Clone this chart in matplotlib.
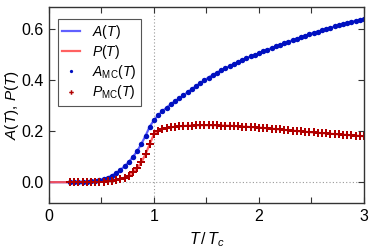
import matplotlib
matplotlib.use("Agg")
import matplotlib.pyplot as plt

plt.rcParams['font.family'] = ['Liberation Sans', 'DejaVu Sans']
plt.rcParams['mathtext.fontset'] = 'custom'
plt.rcParams['mathtext.rm'] = 'Liberation Sans'
plt.rcParams['mathtext.it'] = 'Liberation Sans:italic'
plt.rcParams['mathtext.sf'] = 'Liberation Sans'

T_mc = [0.20, 0.24, 0.28, 0.32, 0.36, 0.40, 0.44, 0.48, 0.52, 0.56,
        0.60, 0.64, 0.68, 0.72, 0.76, 0.80, 0.84, 0.88, 0.92, 0.96,
        1.00, 1.04, 1.08, 1.12, 1.16, 1.20, 1.24, 1.28, 1.32, 1.36,
        1.40, 1.44, 1.48, 1.52, 1.56, 1.60, 1.64, 1.68, 1.72, 1.76,
        1.80, 1.84, 1.88, 1.92, 1.96, 2.00, 2.04, 2.08, 2.12, 2.16,
        2.20, 2.24, 2.28, 2.32, 2.36, 2.40, 2.44, 2.48, 2.52, 2.56,
        2.60, 2.64, 2.68, 2.72, 2.76, 2.80, 2.84, 2.88, 2.92, 2.96, 3.00]

A_mc = [0.000, 0.000, 0.001, 0.001, 0.002, 0.003, 0.005, 0.008, 0.012, 0.018,
        0.026, 0.036, 0.048, 0.062, 0.079, 0.099, 0.122, 0.150, 0.182, 0.218,
        0.243, 0.262, 0.278, 0.292, 0.305, 0.317, 0.328, 0.340, 0.352, 0.364,
        0.376, 0.388, 0.399, 0.410, 0.420, 0.429, 0.438, 0.446, 0.455, 0.463,
        0.471, 0.479, 0.486, 0.493, 0.499, 0.505, 0.512, 0.519, 0.525, 0.532,
        0.538, 0.544, 0.550, 0.556, 0.562, 0.568, 0.574, 0.580, 0.585, 0.590,
        0.595, 0.600, 0.605, 0.610, 0.614, 0.619, 0.623, 0.628, 0.632, 0.636, 0.640]

P_mc = [0.000, 0.000, 0.000, 0.000, 0.000, 0.000, 0.001, 0.001, 0.002, 0.003,
        0.005, 0.008, 0.012, 0.018, 0.026, 0.038, 0.055, 0.078, 0.110, 0.150,
        0.188, 0.202, 0.208, 0.212, 0.215, 0.217, 0.219, 0.220, 0.221, 0.222,
        0.2225, 0.223, 0.223, 0.223, 0.223, 0.2225, 0.222, 0.2215, 0.221, 0.220,
        0.219, 0.218, 0.217, 0.216, 0.215, 0.214, 0.2125, 0.211, 0.2095, 0.208,
        0.2065, 0.205, 0.2035, 0.202, 0.2005, 0.199, 0.1975, 0.196, 0.1948, 0.1935,
        0.1922, 0.191, 0.1898, 0.1886, 0.1874, 0.1862, 0.185, 0.1838, 0.1826, 0.1814, 0.180]

T_line = [0.0] + T_mc
A_line = [0.0] + A_mc
P_line = [0.0] + P_mc

fig = plt.figure(figsize=(3.74, 2.52), dpi=100)
ax = fig.add_axes([0.131, 0.194, 0.842, 0.778])

ax.axvline(1.0, color='#999999', ls=(0, (1, 2)), lw=0.8, zorder=0)
ax.axhline(0.0, color='#999999', ls=(0, (1, 2)), lw=0.8, zorder=0)

ax.plot(T_line, A_line, color='#4f4fff', lw=1.6, alpha=0.9, label=r'$A(T)$')
ax.plot(T_line, P_line, color='#ff5050', lw=1.6, alpha=0.9, label=r'$P(T)$')
ax.plot(T_mc, A_mc, 'o', color='#0010c0', ms=3.9, mew=0, label=r'$A_{\mathrm{MC}}(T)$')
ax.plot(T_mc, P_mc, 'P', color='#b00000', ms=5.4, mew=0, label=r'$P_{\mathrm{MC}}(T)$')

ax.set_xlim(0, 3)
ax.set_ylim(-0.082, 0.686)
ax.set_xticks([0, 1, 2, 3])
ax.set_xticklabels(['0', '1', '2', '3'])
ax.set_xticks([0.5, 1.5, 2.5], minor=True)
ax.set_yticks([0.0, 0.2, 0.4, 0.6])
ax.set_yticklabels(['0.0', '0.2', '0.4', '0.6'])
ax.tick_params(which='both', direction='in', top=True, right=True,
               labelsize=11.5, color='#333333', pad=4)
ax.tick_params(which='major', length=4, width=0.8)
ax.tick_params(which='minor', length=4, width=0.8)
for s in ax.spines.values():
    s.set_color('#333333')
    s.set_linewidth(1.0)

ax.set_xlabel(r'$T\,/\,T_c$', fontsize=11.5, labelpad=5)
ax.set_ylabel(r'$A(T),\,P(T)$', fontsize=11)
ax.yaxis.set_label_coords(-0.088, 0.5)

leg = ax.legend(loc='upper left', bbox_to_anchor=(0.029, 0.939), borderaxespad=0,
                fontsize=10, handlelength=1.3, handletextpad=0.85, borderpad=0.3,
                labelspacing=0.15, fancybox=False, framealpha=1,
                edgecolor='#555555', numpoints=1, markerscale=0.6)
leg.get_frame().set_linewidth(0.8)

fig.savefig('out.png', dpi=100)
